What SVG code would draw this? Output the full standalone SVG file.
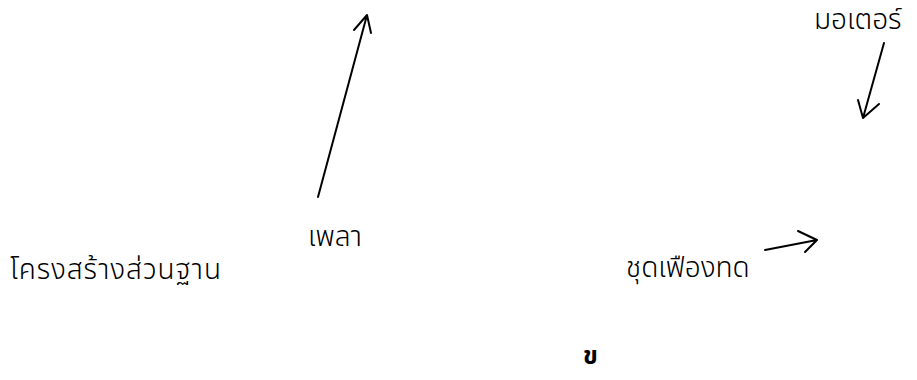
<svg xmlns="http://www.w3.org/2000/svg" width="917" height="380" viewBox="0 0 917 380">
<style>
text{font-family:"Noto Sans Thai","Leelawadee UI","Tahoma","DejaVu Sans","Noto Sans",sans-serif;font-size:28px;font-weight:300;fill:#000}
.c{stroke:#000;stroke-width:2;fill:none;stroke-linecap:round;stroke-linejoin:round}
</style>
<rect width="917" height="380" fill="#fff"/>
<g id="connectors">
<path class="c" d="M884 43 L863 118 M858 100 L863 118 L879 104"/>
<path class="c" d="M318 197 L367 15 M354 30 L367 15 L371 33"/>
<path class="c" d="M765 250 L817 240 M798 231 L817 240 L805 252"/>
</g>
<g id="motor"><text x="814" y="29">มอเตอร์</text></g>
<g id="shaft"><text x="308" y="246">เพลา</text></g>
<g id="base"><text x="10" y="279" textLength="211" lengthAdjust="spacing">โครงสร้างส่วนฐาน</text></g>
<g id="gear"><text x="626" y="277">ชุดเฟืองทด</text></g>
<g id="label"><text x="583" y="364" style="font-weight:bold;font-size:25px">ข</text></g>
</svg>
